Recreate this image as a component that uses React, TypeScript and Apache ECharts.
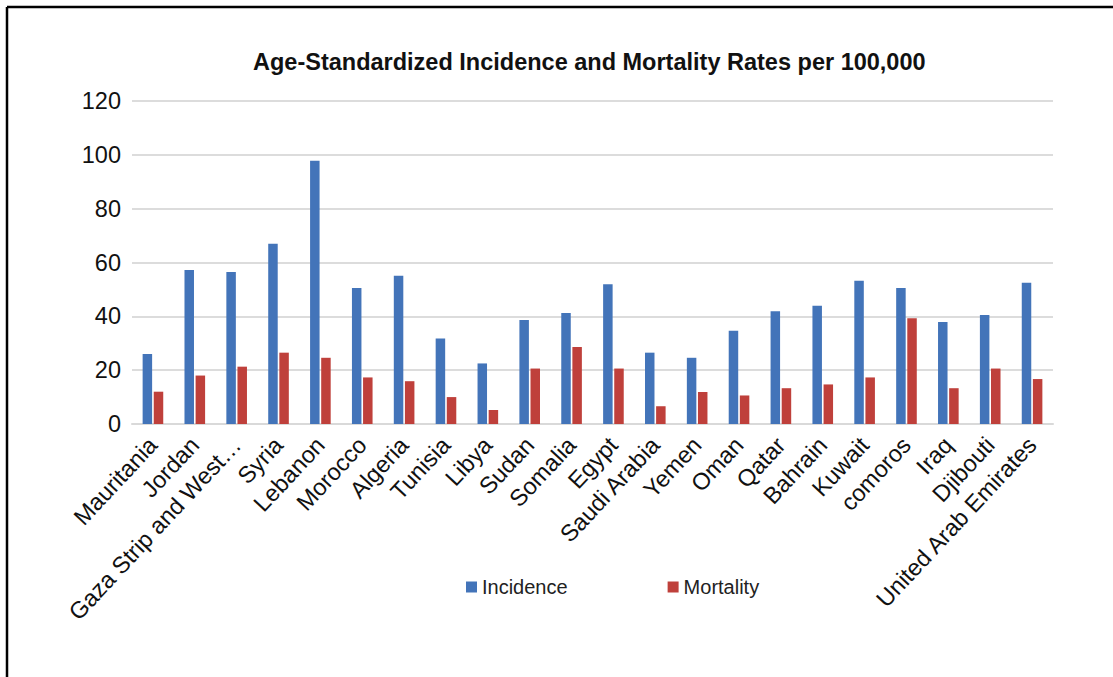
import React, { useEffect, useRef } from "react";
import * as echarts from "echarts";

const categories = [
  "Mauritania", "Jordan", "Gaza Strip and West…", "Syria", "Lebanon", "Morocco",
  "Algeria", "Tunisia", "Libya", "Sudan", "Somalia", "Egypt", "Saudi Arabia",
  "Yemen", "Oman", "Qatar", "Bahrain", "Kuwait", "comoros", "Iraq", "Djibouti",
  "United Arab Emirates",
];
const incidence = [26, 57.2, 56.5, 67, 97.8, 50.5, 55.1, 31.8, 22.5, 38.6, 41.2, 51.9, 26.5, 24.6, 34.6, 41.9, 43.9, 53.2, 50.5, 37.9, 40.5, 52.5];
const mortality = [12, 18, 21.3, 26.5, 24.6, 17.3, 15.9, 10, 5.2, 20.6, 28.6, 20.6, 6.6, 11.9, 10.6, 13.3, 14.7, 17.3, 39.3, 13.3, 20.6, 16.7];
const yTicks = { min: 0, max: 120, interval: 20 };
const titleText = "Age-Standardized Incidence and Mortality Rates per 100,000";

export default function App() {
  const ref = useRef<HTMLDivElement>(null);
  useEffect(() => {
    if (!ref.current) return;
    const chart = echarts.init(ref.current, undefined, { renderer: "svg" });
    const font = "Liberation Sans, Arial, Helvetica, sans-serif";
    chart.setOption({
      animation: false,
      backgroundColor: "#ffffff",
      textStyle: { fontFamily: font },
      title: {
        text: titleText,
        left: 248,
        top: 45,
        textStyle: { fontSize: 23.5, fontWeight: "bold", color: "#111", fontFamily: font },
      },
      grid: { left: 132, right: 60, top: 101, bottom: 253, containLabel: false },
      legend: {
        data: ["Incidence", "Mortality"],
        left: 461,
        top: 572,
        icon: "rect",
        itemWidth: 11,
        itemHeight: 11,
        itemGap: 100,
        textStyle: { fontSize: 20, color: "#222", fontFamily: font },
      },
      xAxis: {
        type: "category",
        data: categories,
        axisTick: { show: false },
        axisLine: { lineStyle: { color: "#d9d9d9", width: 2 } },
        axisLabel: {
          rotate: 47,
          interval: 0,
          fontSize: 23.5,
          color: "#111",
          margin: 17,
          fontFamily: font,
        },
      },
      yAxis: {
        type: "value",
        min: yTicks.min,
        max: yTicks.max,
        interval: yTicks.interval,
        axisLine: { show: false },
        axisTick: { show: false },
        splitLine: { lineStyle: { color: "#dcdcdc", width: 2 } },
        axisLabel: { fontSize: 23.5, color: "#111", margin: 11, fontFamily: font },
      },
      series: [
        {
          name: "Incidence",
          type: "bar",
          data: incidence,
          barWidth: 9.5,
          barGap: "17%",
          itemStyle: { color: "#4374B9" },
        },
        {
          name: "Mortality",
          type: "bar",
          data: mortality,
          barWidth: 9.5,
          itemStyle: { color: "#BF403B" },
        },
      ],
      graphic: [
        { type: "line", shape: { x1: 7, y1: 7, x2: 7, y2: 677 }, style: { stroke: "#000", lineWidth: 2.5 } },
        { type: "line", shape: { x1: 7, y1: 7, x2: 1113, y2: 7 }, style: { stroke: "#000", lineWidth: 2.5 } },
      ],
    });
    return () => chart.dispose();
  }, []);
  return (
    <div
      ref={ref}
      style={{ position: "absolute", left: 0, top: 0, width: 1113, height: 677 }}
    />
  );
}
